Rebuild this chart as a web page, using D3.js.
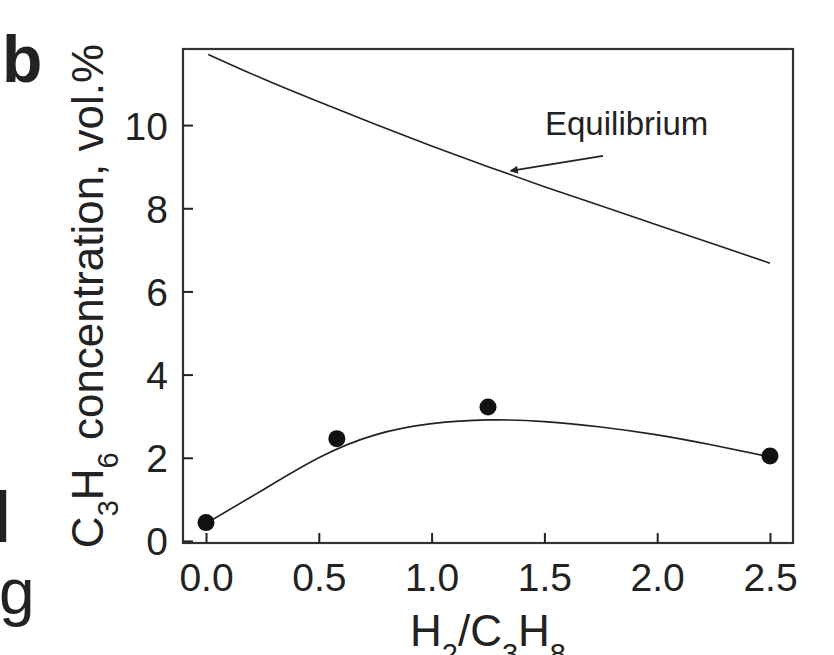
<!DOCTYPE html>
<html>
<head>
<meta charset="utf-8">
<script src="https://cdn.jsdelivr.net/npm/d3@7"></script>
<style>
  body { margin: 0; background: #fff; }
  text { font-family: "Liberation Sans", Arial, sans-serif; fill: #222; }
</style>
</head>
<body>
<div id="chart"></div>
<script>
// Measured points (H2/C3H8 ratio vs C3H6 vol.%)
const ratio = [0.0, 0.58, 1.25, 2.5];
const propylene = [0.44, 2.46, 3.22, 2.04];

const fitX = [0.0, 0.25, 0.5, 0.75, 1.0, 1.25, 1.5, 1.75, 2.0, 2.25, 2.5];
const fitY = [0.42, 1.22, 2.0, 2.55, 2.82, 2.91, 2.87, 2.74, 2.55, 2.3, 2.02];

// Equilibrium curve
const eqX = [0.01, 0.25, 0.5, 0.75, 1.0, 1.25, 1.5, 1.75, 2.0, 2.25, 2.5];
const eqY = [11.7, 11.12, 10.56, 10.02, 9.5, 9.0, 8.52, 8.06, 7.6, 7.14, 6.68];

// Tick labels
const xTicks = [0.0, 0.5, 1.0, 1.5, 2.0, 2.5];
const yTicks = [0, 2, 4, 6, 8, 10];

const width = 834;
const height = 655;
const margin = { top: 49, right: 41, bottom: 112, left: 183 };

const svg = d3.select("#chart")
    .append("svg")
    .attr("width", width)
    .attr("height", height);

const x = d3.scaleLinear().domain([-0.102, 2.602]).range([margin.left, width - margin.right]);
const y = d3.scaleLinear().domain([-0.05, 11.83]).range([height - margin.bottom, margin.top]);

const ink = "#222";

// arrow head
svg.append("defs").append("marker")
    .attr("id", "head")
    .attr("viewBox", "0 0 10 10")
    .attr("refX", 9).attr("refY", 5)
    .attr("markerWidth", 12).attr("markerHeight", 8)
    .attr("markerUnits", "userSpaceOnUse")
    .attr("orient", "auto")
    .append("path")
    .attr("d", "M0,0 L10,5 L0,10 Z")
    .attr("fill", ink);

// frame
svg.append("rect")
    .attr("x", x.range()[0]).attr("y", y.range()[1])
    .attr("width", x.range()[1] - x.range()[0])
    .attr("height", y.range()[0] - y.range()[1])
    .attr("fill", "none")
    .attr("stroke", "#333")
    .attr("stroke-width", 2.2);

// x axis (ticks pointing inward)
const xAxis = svg.append("g")
    .attr("transform", `translate(0,${y.range()[0]})`)
    .call(d3.axisBottom(x).tickValues(xTicks).tickSizeInner(-10).tickSizeOuter(0)
        .tickFormat(d3.format(".1f")));
xAxis.select(".domain").remove();
xAxis.selectAll(".tick line").attr("stroke", ink).attr("stroke-width", 2);
xAxis.selectAll(".tick text")
    .attr("y", 48)
    .attr("dy", 0)
    .style("font-size", "39px")
    .attr("fill", ink);

// y axis (ticks pointing inward)
const yAxis = svg.append("g")
    .attr("transform", `translate(${x.range()[0]},0)`)
    .call(d3.axisLeft(y).tickValues(yTicks).tickSizeInner(-10).tickSizeOuter(0));
yAxis.select(".domain").remove();
yAxis.selectAll(".tick line").attr("stroke", ink).attr("stroke-width", 2);
yAxis.selectAll(".tick text")
    .attr("x", -15)
    .attr("dy", "0.36em")
    .style("font-size", "39px")
    .attr("fill", ink);

// equilibrium line
const line = d3.line().x(d => x(d[0])).y(d => y(d[1])).curve(d3.curveNatural);
svg.append("path")
    .datum(d3.zip(eqX, eqY))
    .attr("d", line)
    .attr("fill", "none")
    .attr("stroke", ink)
    .attr("stroke-width", 1.6);

// fitted line
svg.append("path")
    .datum(d3.zip(fitX, fitY))
    .attr("d", line)
    .attr("fill", "none")
    .attr("stroke", ink)
    .attr("stroke-width", 1.6);

// measured points
svg.selectAll("circle.pt")
    .data(d3.zip(ratio, propylene))
    .enter().append("circle")
    .attr("class", "pt")
    .attr("cx", d => x(d[0]))
    .attr("cy", d => y(d[1]))
    .attr("r", 8.5)
    .attr("fill", "#111");

// annotation
svg.append("line")
    .attr("x1", x(1.76)).attr("y1", y(9.26))
    .attr("x2", x(1.35)).attr("y2", y(8.9))
    .attr("stroke", ink)
    .attr("stroke-width", 1.6)
    .attr("marker-end", "url(#head)");

svg.append("text")
    .attr("x", 545).attr("y", 135)
    .style("font-size", "33px")
    .text("Equilibrium");

// y axis title
const yTitle = svg.append("text")
    .attr("transform", `translate(103,${(y.range()[0] + y.range()[1]) / 2}) rotate(-90)`)
    .attr("text-anchor", "middle")
    .style("font-size", "44px");
yTitle.append("tspan").text("C");
yTitle.append("tspan").attr("dy", 15).style("font-size", "29px").text("3");
yTitle.append("tspan").attr("dy", -15).text("H");
yTitle.append("tspan").attr("dy", 15).style("font-size", "29px").text("6");
yTitle.append("tspan").attr("dy", -15).text(" concentration, vol.%");

// x axis title
const xTitle = svg.append("text")
    .attr("x", x(1.25)).attr("y", 646)
    .attr("text-anchor", "middle")
    .style("font-size", "44px");
xTitle.append("tspan").text("H");
xTitle.append("tspan").attr("dy", 18).style("font-size", "29px").text("2");
xTitle.append("tspan").attr("dy", -18).text("/C");
xTitle.append("tspan").attr("dy", 18).style("font-size", "29px").text("3");
xTitle.append("tspan").attr("dy", -18).text("H");
xTitle.append("tspan").attr("dy", 18).style("font-size", "29px").text("8");

// panel letter
svg.append("text")
    .attr("x", 2).attr("y", 82)
    .style("font-size", "66px")
    .style("font-weight", "bold")
    .text("b");

// fragments of the neighbouring panel's text
svg.append("text")
    .attr("x", -5).attr("y", 542)
    .style("font-size", "72px")
    .attr("fill", "#000")
    .text("l");
svg.append("text")
    .attr("x", -1).attr("y", 614)
    .style("font-size", "64px")
    .attr("fill", "#000")
    .text("g");
</script>
</body>
</html>
